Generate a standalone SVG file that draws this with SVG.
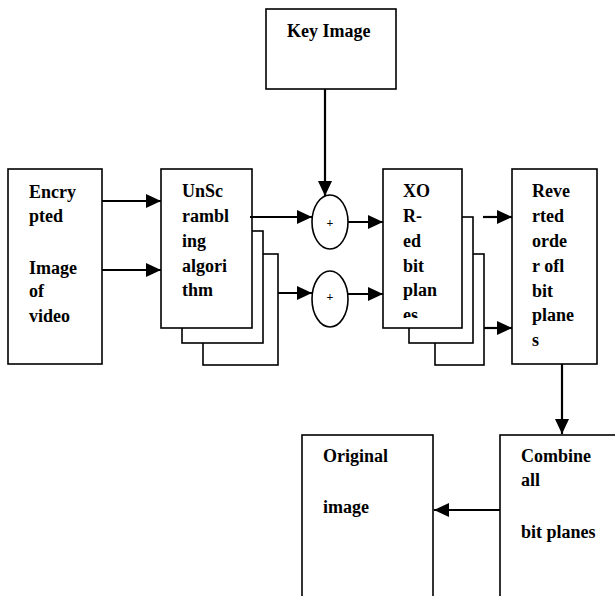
<svg xmlns="http://www.w3.org/2000/svg" width="615" height="596" viewBox="0 0 615 596">
<style>
.box{fill:#fff;stroke:#000;stroke-width:1.6}
.t{font-family:"Liberation Serif",serif;font-weight:bold;font-size:18px;fill:#000}
.p{font-family:"Liberation Serif",serif;font-weight:bold;font-size:12px;fill:#000}
.c{stroke:#000;stroke-width:2.2;fill:none}
</style>
<defs>
<marker id="ah" markerUnits="userSpaceOnUse" markerWidth="16" markerHeight="14" refX="15" refY="7" orient="auto">
<path d="M0,0 L15,7 L0,14 Z" fill="#000"/>
</marker>
<clipPath id="xc"><rect x="383" y="169" width="80" height="149"/></clipPath>
</defs>
<rect width="615" height="596" fill="#fff"/>
<g id="key">
<rect class="box" x="266" y="9" width="130" height="80"/>
<text class="t" x="287" y="37">Key Image</text>
</g>
<g id="encrypted">
<rect class="box" x="8" y="169" width="94" height="195"/>
<text class="t" x="29" y="198">Encry</text>
<text class="t" x="29" y="222">pted</text>
<text class="t" x="29" y="274">Image</text>
<text class="t" x="29" y="297">of</text>
<text class="t" x="29" y="322">video</text>
</g>
<g id="unscrambling">
<rect class="box" x="203" y="254" width="75" height="111"/>
<rect class="box" x="182" y="231" width="81" height="112"/>
<rect class="box" x="161" y="169" width="91" height="159"/>
<text class="t" x="182" y="197">UnSc</text>
<text class="t" x="182" y="222">rambl</text>
<text class="t" x="182" y="247">ing</text>
<text class="t" x="182" y="272">algori</text>
<text class="t" x="182" y="296">thm</text>
</g>
<g id="xor1">
<ellipse class="box" cx="330" cy="222" rx="18" ry="27"/>
<text class="p" x="330" y="227" text-anchor="middle">+</text>
</g>
<g id="xor2">
<ellipse class="box" cx="330" cy="299" rx="18" ry="28"/>
<text class="p" x="330" y="301" text-anchor="middle">+</text>
</g>
<g id="xored">
<rect class="box" x="435" y="254" width="49" height="111"/>
<rect class="box" x="409" y="217" width="64" height="126"/>
<rect class="box" x="383" y="169" width="79" height="159"/>
<g clip-path="url(#xc)">
<text class="t" x="403" y="197">XO</text>
<text class="t" x="403" y="222">R-</text>
<text class="t" x="403" y="247">ed</text>
<text class="t" x="403" y="272">bit</text>
<text class="t" x="403" y="296">plan</text>
<text class="t" x="403" y="321">es</text>
</g>
</g>
<g id="reverted">
<rect class="box" x="512" y="169" width="85" height="195"/>
<text class="t" x="532" y="197">Reve</text>
<text class="t" x="532" y="222">rted</text>
<text class="t" x="532" y="247">orde</text>
<text class="t" x="532" y="272">r ofl</text>
<text class="t" x="532" y="297">bit</text>
<text class="t" x="532" y="321">plane</text>
<text class="t" x="532" y="346">s</text>
</g>
<g id="combine">
<rect class="box" x="500" y="435" width="130" height="180"/>
<text class="t" x="521" y="462">Combine</text>
<text class="t" x="521" y="486">all</text>
<text class="t" x="521" y="538">bit planes</text>
</g>
<g id="original">
<rect class="box" x="302" y="435" width="131" height="180"/>
<text class="t" x="323" y="462">Original</text>
<text class="t" x="323" y="513">image</text>
</g>
<g id="connectors">
<line class="c" x1="102" y1="201" x2="161" y2="201" marker-end="url(#ah)"/>
<line class="c" x1="102" y1="270" x2="161" y2="270" marker-end="url(#ah)"/>
<line class="c" x1="250" y1="217" x2="312" y2="217" marker-end="url(#ah)"/>
<line class="c" x1="278" y1="293" x2="312" y2="293" marker-end="url(#ah)"/>
<line class="c" x1="325" y1="89" x2="325" y2="196" marker-end="url(#ah)"/>
<line class="c" x1="348" y1="222" x2="383" y2="222" marker-end="url(#ah)"/>
<line class="c" x1="348" y1="294" x2="383" y2="294" marker-end="url(#ah)"/>
<line class="c" x1="483" y1="217" x2="512" y2="217" marker-end="url(#ah)"/>
<line class="c" x1="484" y1="328" x2="512" y2="328" marker-end="url(#ah)"/>
<line class="c" x1="562" y1="364" x2="562" y2="434" marker-end="url(#ah)"/>
<line class="c" x1="500" y1="510" x2="434" y2="510" marker-end="url(#ah)"/>
</g>
</svg>
